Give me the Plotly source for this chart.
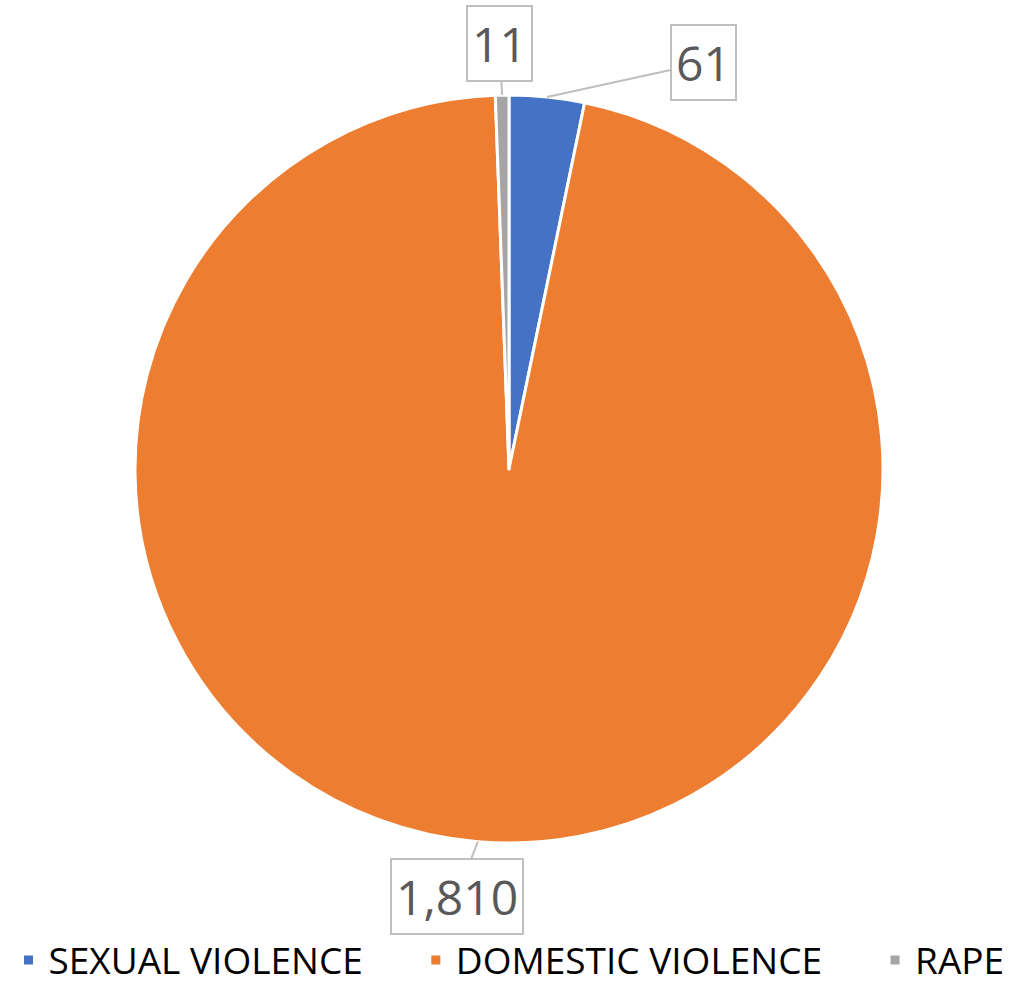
import math
import plotly.graph_objects as go

categories = ["SEXUAL VIOLENCE", "DOMESTIC VIOLENCE", "RAPE"]
values = [61, 1810, 11]
value_labels = ["61", "1,810", "11"]
colors = ["#4472C4", "#ED7D31", "#A5A5A5"]
# label box offsets (pixels) relative to slice edge point
label_offsets = [(156, -34), (-21, 55), (-3, -52)]
# extra spacing after legend entries (non-breaking spaces)
legend_pad = [5, 5, 0]

W, H = 1018, 986
cx_px, cy_px, r_px = 509, 469, 374

legend_labels = [c + "\u00a0" * p for c, p in zip(categories, legend_pad)]

fig = go.Figure(go.Pie(
    labels=legend_labels,
    values=values,
    marker=dict(colors=colors, line=dict(color="white", width=3)),
    sort=False,
    direction="clockwise",
    rotation=0,
    textinfo="none",
    hovertemplate="%{label}: %{value:,}<extra></extra>",
    domain=dict(x=[(cx_px - r_px) / W, (cx_px + r_px) / W],
                y=[1 - (cy_px + r_px) / H, 1 - (cy_px - r_px) / H]),
))

total = sum(values)
cum = 0
annotations = []
for v, txt, (ax, ay) in zip(values, value_labels, label_offsets):
    mid = (cum + v / 2) / total * 2 * math.pi
    cum += v
    px = cx_px + r_px * math.sin(mid)
    py = cy_px - r_px * math.cos(mid)
    annotations.append(dict(
        x=px / W, y=1 - py / H, xref="paper", yref="paper",
        text=txt, showarrow=True, arrowhead=0, arrowwidth=2,
        arrowcolor="#BFBFBF", ax=ax, ay=ay,
        font=dict(family="Open Sans", size=48, color="#595959"),
        bordercolor="#BFBFBF", borderwidth=2, borderpad=4, bgcolor="white",
    ))

fig.update_layout(
    width=W, height=H,
    margin=dict(l=0, r=0, t=0, b=0, autoexpand=False),
    paper_bgcolor="white",
    plot_bgcolor="white",
    annotations=annotations,
    showlegend=True,
    legend=dict(orientation="h", x=0.5, xanchor="center", y=0.026, yanchor="middle",
                font=dict(family="Open Sans", size=37, color="#000000"),
                bgcolor="rgba(0,0,0,0)", traceorder="normal"),
)

fig.write_html("out.html", config={"displayModeBar": False},
               post_script="document.body.style.margin='0';")
